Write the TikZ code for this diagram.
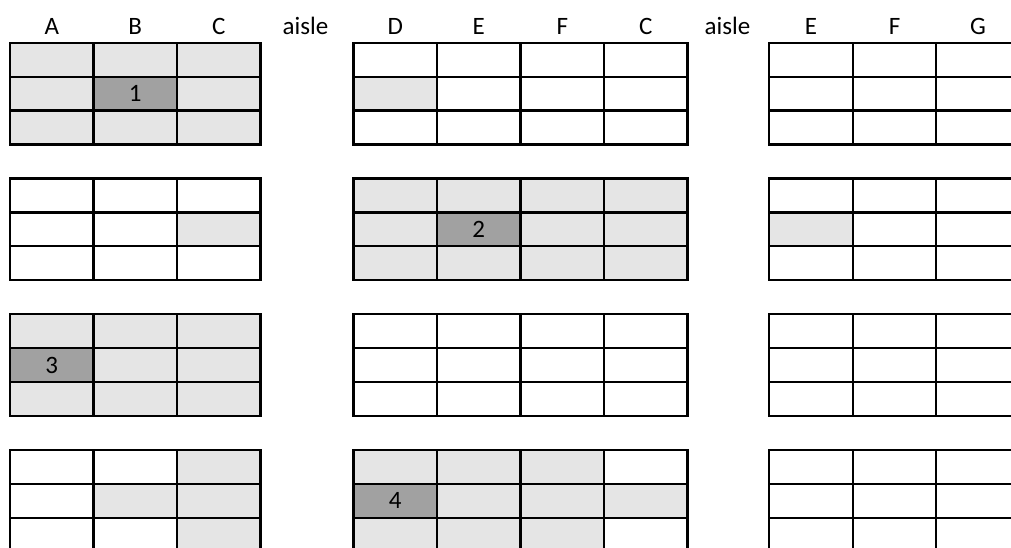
\documentclass[tikz,border=0pt]{standalone}
\usepackage{fontspec}
\setmainfont{Carlito}
\begin{document}
\begin{tikzpicture}[x=1pt,y=-1pt,
  gl/.style={line width=2.2pt,line cap=rect},
  lite/.style={fill=black!10},
  dark/.style={fill=black!37},
  hdr/.style={font=\fontsize{25}{30}\selectfont,anchor=base,inner sep=0pt},
  num/.style={font=\fontsize{25}{30}\selectfont,inner sep=0pt}]
\useasboundingbox (0,0) rectangle (1011,547);
\clip (0,0) rectangle (1011,547);
\fill[white] (0,0) rectangle (1011,547);
\def\W{83.5}\def\H{33.9}
\def\xl{10}\def\xm{353.5}\def\xr{769.3}
\def\ta{42.7}\def\tb{178.5}\def\tc{314.2}\def\td{450}
\newcommand\cf[5]{\fill[#5] ({#1+#2*\W},{#3+#4*\H}) rectangle ++(\W,\H);}
\newcommand\grp[3]{%
  \foreach \i in {0,...,#2} {\draw[gl] ({#1+\i*\W},#3) -- ++(0,3*\H);}
  \foreach \j in {0,...,3} {\draw[gl] (#1,{#3+\j*\H}) -- ++({#2*\W},0);}}
% group 1
\foreach \c in {0,1,2} {\foreach \r in {0,1,2} {\cf{\xl}{\c}{\ta}{\r}{lite}}}
\cf{\xl}{1}{\ta}{1}{dark}
\cf{\xm}{0}{\ta}{1}{lite}
% group 2
\cf{\xl}{2}{\tb}{1}{lite}
\foreach \c in {0,1,2,3} {\foreach \r in {0,1,2} {\cf{\xm}{\c}{\tb}{\r}{lite}}}
\cf{\xm}{1}{\tb}{1}{dark}
\cf{\xr}{0}{\tb}{1}{lite}
% group 3
\foreach \c in {0,1,2} {\foreach \r in {0,1,2} {\cf{\xl}{\c}{\tc}{\r}{lite}}}
\cf{\xl}{0}{\tc}{1}{dark}
% group 4
\foreach \r in {0,1,2} {\cf{\xl}{2}{\td}{\r}{lite}}
\cf{\xl}{1}{\td}{1}{lite}
\foreach \c in {0,1,2} {\foreach \r in {0,1,2} {\cf{\xm}{\c}{\td}{\r}{lite}}}
\cf{\xm}{3}{\td}{1}{lite}
\cf{\xm}{0}{\td}{1}{dark}
% grids
\foreach \t in {\ta,\tb,\tc,\td} {\grp{\xl}{3}{\t}\grp{\xm}{4}{\t}\grp{\xr}{3}{\t}}
% headers
\def\hy{34.5}
\node[hdr] (hA) at ({\xl+0.5*\W},\hy) {A};
\node[hdr] (hB) at ({\xl+1.5*\W},\hy) {B};
\node[hdr] (hC) at ({\xl+2.5*\W},\hy) {C};
\node[hdr] (ais1) at (305.5,\hy) {aisle};
\node[hdr] (hD) at ({\xm+0.5*\W},\hy) {D};
\node[hdr] (hE) at ({\xm+1.5*\W},\hy) {E};
\node[hdr] (hF) at ({\xm+2.5*\W},\hy) {F};
\node[hdr] (hC2) at ({\xm+3.5*\W},\hy) {C};
\node[hdr] (ais2) at (727.5,\hy) {aisle};
\node[hdr] (hE2) at ({\xr+0.5*\W},\hy) {E};
\node[hdr] (hF2) at ({\xr+1.5*\W},\hy) {F};
\node[hdr] (hG) at ({\xr+2.5*\W},\hy) {G};
% numbers
\node[num] (n1) at ({\xl+1.5*\W},{\ta+1.5*\H}) {1};
\node[num] (n2) at ({\xm+1.5*\W},{\tb+1.5*\H}) {2};
\node[num] (n3) at ({\xl+0.5*\W},{\tc+1.5*\H}) {3};
\node[num] (n4) at ({\xm+0.5*\W},{\td+1.5*\H}) {4};
\end{tikzpicture}
\end{document}
